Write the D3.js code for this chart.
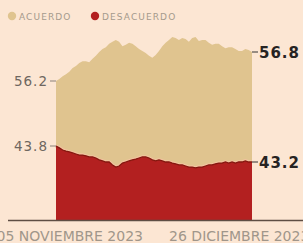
<!DOCTYPE html>
<html>
<head>
<meta charset="utf-8">
<script src="https://cdn.jsdelivr.net/npm/d3@7"></script>
<style>
    body { margin: 0; background: #fce6d3; }
    svg { display: block; font-family: 'DejaVu Sans', sans-serif; }
</style>
</head>
<body>
<svg></svg>
<script>
// one point per day, 1 nov 2023 .. 30 dic 2023
let startDate = new Date(2023, 10, 1)

let acuerdo = [
    56.20, 56.24, 56.30, 56.34, 56.39, 56.47, 56.51, 56.57, 56.61, 56.61,
    56.59, 56.66, 56.72, 56.80, 56.86, 56.90, 56.97, 57.01, 57.05, 57.01,
    56.92, 56.95, 56.99, 56.97, 56.92, 56.86, 56.82, 56.78, 56.72, 56.68,
    56.74, 56.82, 56.92, 56.99, 57.05, 57.11, 57.09, 57.05, 57.09, 57.07,
    57.01, 57.09, 57.11, 57.03, 57.05, 57.05, 56.99, 56.95, 56.97, 56.97,
    56.92, 56.88, 56.90, 56.90, 56.86, 56.82, 56.82, 56.86, 56.84, 56.80
]

let desacuerdo = [
    43.80, 43.73, 43.65, 43.61, 43.58, 43.54, 43.50, 43.46, 43.46, 43.43,
    43.39, 43.39, 43.35, 43.28, 43.24, 43.20, 43.20, 43.09, 43.01, 43.05,
    43.16, 43.20, 43.24, 43.28, 43.31, 43.35, 43.39, 43.39, 43.35, 43.28,
    43.24, 43.28, 43.24, 43.20, 43.20, 43.16, 43.13, 43.09, 43.09, 43.05,
    43.01, 43.01, 42.98, 43.01, 43.01, 43.05, 43.09, 43.09, 43.13, 43.16,
    43.16, 43.20, 43.16, 43.20, 43.16, 43.20, 43.20, 43.24, 43.20, 43.20
]

let seriesNames = ['ACUERDO', 'DESACUERDO']
let startLabels = ['56.2', '43.8']
let endLabels = ['56.8', '43.2']
let tickDates = [new Date(2023, 10, 5), new Date(2023, 11, 26)]
let tickLabels = ['05 NOVIEMBRE 2023', '26 DICIEMBRE 2023']

let width = 303
let height = 243
let left = 56
let right = 252
let base = 220

let colAcuerdo = '#e0c48f'
let colDesacuerdo = '#b32020'

let values = acuerdo.map((a, i) => {
    return {
        date: d3.timeDay.offset(startDate, i),
        acuerdo: a,
        desacuerdo: desacuerdo[i]
    }
})

let svg = d3.select('svg')
    .attr('width', width)
    .attr('height', height)

let xScale = d3.scaleTime()
    .domain(d3.extent(values, (item) => item.date))
    .range([left, right])

// the two bands are drawn on their own scales, as in the original graphic
let yAcuerdo = d3.scaleLinear()
    .domain([56.2, 56.8])
    .range([81, 52])

let yDesacuerdo = d3.scaleLinear()
    .domain([43.8, 43.2])
    .range([146, 162])

// acuerdo band
let areaA = d3.area()
    .x((item) => xScale(item.date))
    .y0(base)
    .y1((item) => yAcuerdo(item.acuerdo))

svg.append('path')
    .datum(values)
    .attr('d', areaA)
    .attr('fill', colAcuerdo)

// light halo over the red band
let lineD = d3.line()
    .x((item) => xScale(item.date))
    .y((item) => yDesacuerdo(item.desacuerdo))

svg.append('path')
    .datum(values)
    .attr('d', lineD)
    .attr('fill', 'none')
    .attr('stroke', '#f2c39f')
    .attr('stroke-width', 3.5)

let areaD = d3.area()
    .x((item) => xScale(item.date))
    .y0(base)
    .y1((item) => yDesacuerdo(item.desacuerdo))

svg.append('path')
    .datum(values)
    .attr('d', areaD)
    .attr('fill', colDesacuerdo)

svg.append('path')
    .datum(values)
    .attr('d', lineD)
    .attr('fill', 'none')
    .attr('stroke', '#85170f')
    .attr('stroke-width', 1.3)

// baseline
svg.append('line')
    .attr('x1', 8)
    .attr('x2', width)
    .attr('y1', base + 0.5)
    .attr('y2', base + 0.5)
    .attr('stroke', '#5e4e44')
    .attr('stroke-width', 1.5)

// start / end labels
let first = values[0]
let last = values[values.length - 1]
let startY = [yAcuerdo(first.acuerdo), yDesacuerdo(first.desacuerdo)]
let endY = [yAcuerdo(last.acuerdo), yDesacuerdo(last.desacuerdo)]

startY.forEach((y, i) => {
    svg.append('line')
        .attr('x1', left - 6).attr('x2', left)
        .attr('y1', y).attr('y2', y)
        .attr('stroke', '#8a8078')
    svg.append('text')
        .attr('x', left - 8)
        .attr('y', y + 4.5)
        .attr('text-anchor', 'end')
        .attr('font-size', 13.5)
        .attr('letter-spacing', 1)
        .attr('fill', '#6f675f')
        .text(startLabels[i])
})

endY.forEach((y, i) => {
    svg.append('line')
        .attr('x1', right).attr('x2', right + 6)
        .attr('y1', y).attr('y2', y)
        .attr('stroke', '#333')
    svg.append('text')
        .attr('x', right + 7)
        .attr('y', y + 5.5)
        .attr('font-size', 15)
        .attr('font-weight', 'bold')
        .attr('letter-spacing', 1)
        .attr('fill', '#262322')
        .text(endLabels[i])
})

// x labels
let xAxis = d3.axisBottom(xScale)
    .tickValues(tickDates)
    .tickFormat((d, i) => tickLabels[i])
    .tickSize(0)

let gx = svg.append('g')
    .attr('transform', 'translate(0, ' + (base + 8) + ')')
    .call(xAxis)

gx.select('.domain').remove()
gx.selectAll('text')
    .attr('font-family', 'DejaVu Sans, sans-serif')
    .attr('font-size', 14)
    .attr('fill', '#a0968a')

// legend
let legendX = [12, 95]
let legendCol = [colAcuerdo, colDesacuerdo]
seriesNames.forEach((name, i) => {
    svg.append('circle')
        .attr('cx', legendX[i])
        .attr('cy', 16)
        .attr('r', 4.2)
        .attr('fill', legendCol[i])
    svg.append('text')
        .attr('x', legendX[i] + 7)
        .attr('y', 19.5)
        .attr('font-size', 9)
        .attr('letter-spacing', 1.1)
        .attr('fill', '#a59a8c')
        .text(name)
})
</script>
</body>
</html>
